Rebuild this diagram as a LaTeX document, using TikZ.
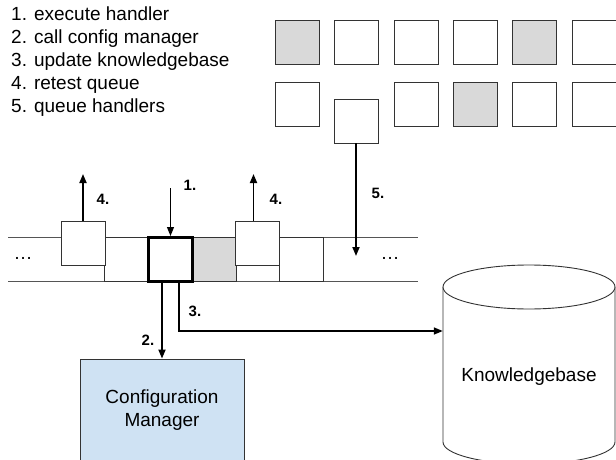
\documentclass[tikz,border=0pt]{standalone}
\usepackage{fontspec}
\setmainfont{Liberation Sans}
\usetikzlibrary{arrows.meta}
\definecolor{gfill}{HTML}{D9D9D9}
\definecolor{bfill}{HTML}{CFE2F3}
\definecolor{edge}{HTML}{333333}
\definecolor{qline}{HTML}{555555}
\begin{document}
\begin{tikzpicture}[x=1pt,y=-1pt,
  cell/.style={draw=edge, line width=0.9pt, fill=white, minimum size=44pt, inner sep=0pt},
  graycell/.style={cell, fill=gfill},
  arr/.style={-{Triangle[length=9pt,width=7pt]}, line width=1.8pt, draw=black},
  num/.style={font=\bfseries\fontsize{15}{17}\selectfont, inner sep=0pt},
  big/.style={font=\fontsize{19}{23}\selectfont},
  queueline/.style={draw=qline, line width=0.9pt}]
\useasboundingbox (0,0) rectangle (616,460);

% legend
\node[anchor=north west, align=left, inner sep=0pt, font=\fontsize{19}{22.8}\selectfont] (legend) at (11,7)
  {1. execute handler\\2. call config manager\\3. update knowledgebase\\4. retest queue\\5. queue handlers};

% top pool of handlers
\node[graycell] (t11) at (297,42.5) {};
\node[cell] (t12) at (356,42.5) {};
\node[cell] (t13) at (416,42.5) {};
\node[cell] (t14) at (475,42.5) {};
\node[graycell] (t15) at (534,42.5) {};
\node[cell] (t16) at (594,42.5) {};
\node[cell] (t21) at (297,104) {};
\node[cell] (t22) at (356,121) {};
\node[cell] (t23) at (416,104) {};
\node[graycell] (t24) at (475,104) {};
\node[cell] (t25) at (534,104) {};
\node[cell] (t26) at (594,104) {};

% queue
\draw[queueline] (8,237.5) -- (418,237.5);
\draw[queueline] (8,281.5) -- (418,281.5);
\node[big, inner sep=0pt] (ldots) at (23,258) {\ldots};
\node[big, inner sep=0pt] (rdots) at (390,258) {\ldots};
\node[cell] (c2) at (126.5,259.5) {};
\node[graycell] (c4) at (214.5,259.5) {};
\node[cell] (c6) at (301.5,259.5) {};
\node[cell] (c1) at (83,243) {};
\node[cell] (c5) at (257.5,243) {};
\node[cell, draw=black, line width=3pt] (cur) at (170.5,259.5) {};

% configuration manager
\node[draw=edge, line width=0.9pt, fill=bfill, minimum width=164pt, minimum height=103pt,
  inner sep=0pt, align=center, big] (cm) at (162,410.5) {Configuration\\Manager};

% knowledgebase cylinder
\draw[draw=edge, line width=0.9pt, fill=white] (443,287) -- (443,442)
  arc[start angle=180, end angle=0, x radius=86, y radius=22] -- (615,287);
\draw[draw=edge, line width=0.9pt, fill=white] (529,287) ellipse [x radius=86, y radius=22];
\node[big, minimum width=172pt, minimum height=130pt, inner sep=0pt] (kb) at (529,377) {Knowledgebase};

% connectors
\coordinate (a1) at (170.5,188);
\coordinate (a4l) at (83,174);
\coordinate (a4r) at (253.5,174);
\coordinate (a5) at (356,256);
\draw[arr, line width=1pt] (a1) -- (cur.north);
\draw[arr] (c1.north) -- (a4l);
\draw[arr] (a4r |- c5.north) -- (a4r);
\draw[arr] (t22.south) -- (a5);
\draw[arr] (cur.south -| cm.north) -- (cm.north);
\draw[arr, line width=1.5pt] ([xshift=8.5pt]cur.south) |- ([yshift=46pt]kb.west);

% step labels
\node[num] (l1) at (190,185) {1.};
\node[num] (l4a) at (103,199) {4.};
\node[num] (l4b) at (276,199) {4.};
\node[num] (l5) at (378,193) {5.};
\node[num] (l2) at (148,340) {2.};
\node[num] (l3) at (195,311) {3.};
\end{tikzpicture}
\end{document}
